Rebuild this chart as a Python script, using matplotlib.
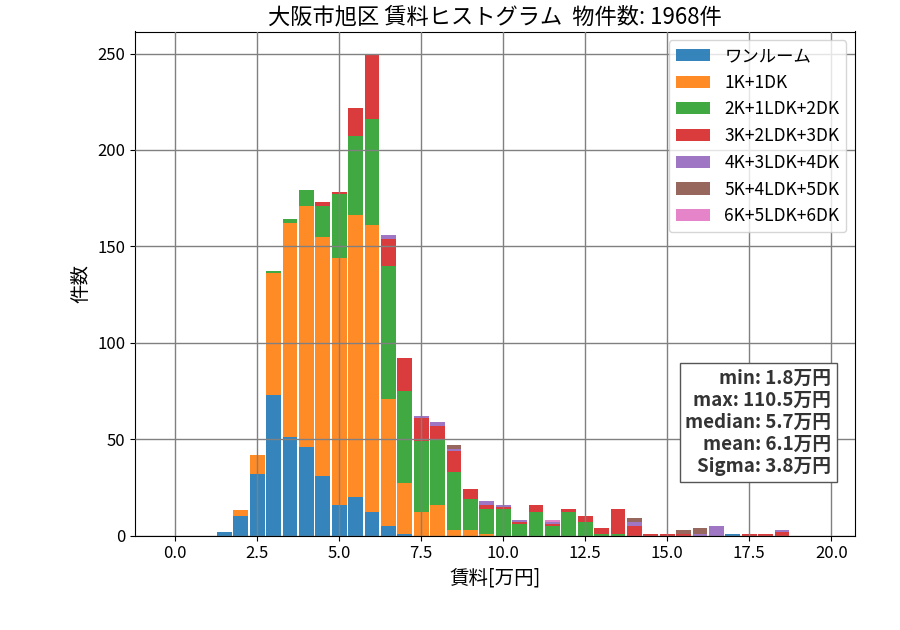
import numpy as np
import matplotlib
matplotlib.use("Agg")
import matplotlib.pyplot as plt

plt.rcParams['font.family'] = ['Noto Sans CJK JP', 'DejaVu Sans']

# bin left edges (0.5万円 bins), bars are drawn centred on the left edge
bin_left = np.arange(0, 20, 0.5)

labels = ["ワンルーム", "1K+1DK", "2K+1LDK+2DK", "3K+2LDK+3DK",
          "4K+3LDK+4DK", "5K+4LDK+5DK", "6K+5LDK+6DK"]

# counts per bin, keyed by bin left edge
one_room = {1.5: 2, 2.0: 10, 2.5: 32, 3.0: 73, 3.5: 51, 4.0: 46, 4.5: 31, 5.0: 16,
            5.5: 20, 6.0: 12, 6.5: 5, 7.0: 1, 17.0: 1}
k1 = {2.0: 3, 2.5: 10, 3.0: 63, 3.5: 111, 4.0: 125, 4.5: 124, 5.0: 128, 5.5: 146,
      6.0: 149, 6.5: 66, 7.0: 26, 7.5: 12, 8.0: 16, 8.5: 3, 9.0: 3, 9.5: 1}
k2 = {3.0: 1, 3.5: 2, 4.0: 8, 4.5: 16, 5.0: 33, 5.5: 41, 6.0: 55, 6.5: 69, 7.0: 48,
      7.5: 37, 8.0: 34, 8.5: 30, 9.0: 16, 9.5: 13, 10.0: 14, 10.5: 6, 11.0: 12,
      11.5: 5, 12.0: 12, 12.5: 7, 13.0: 1, 13.5: 1}
k3 = {4.5: 2, 5.0: 1, 5.5: 15, 6.0: 33, 6.5: 14, 7.0: 17, 7.5: 12, 8.0: 7, 8.5: 11,
      9.0: 5, 9.5: 2, 10.0: 1, 10.5: 1, 11.0: 4, 11.5: 1, 12.0: 2, 12.5: 3, 13.0: 3,
      13.5: 13, 14.0: 5, 14.5: 1, 15.0: 1, 15.5: 1, 17.5: 1, 18.0: 1, 18.5: 2}
k4 = {6.5: 2, 7.5: 1, 8.0: 2, 8.5: 1, 9.5: 2, 10.0: 1, 10.5: 1, 11.5: 1, 14.0: 2,
      16.0: 1, 16.5: 5, 18.5: 1}
k5 = {8.5: 2, 14.0: 2, 15.5: 2, 16.0: 3}
k6 = {11.5: 1}

stats_text = "min: 1.8万円\nmax: 110.5万円\nmedian: 5.7万円\nmean: 6.1万円\nSigma: 3.8万円"
colors = ["tab:blue", "tab:orange", "tab:green", "tab:red",
          "tab:purple", "tab:brown", "tab:pink"]

fig, ax = plt.subplots(figsize=(9, 6.3), dpi=100)
fig.subplots_adjust(left=0.15, right=0.95, bottom=0.15, top=0.95)

bottom = np.zeros(len(bin_left))
for series, lab, col in zip([one_room, k1, k2, k3, k4, k5, k6], labels, colors):
    h = np.array([series.get(round(b, 1), 0) for b in bin_left])
    ax.bar(bin_left, h, width=0.45, bottom=bottom, color=col, alpha=0.9, label=lab)
    bottom += h

ax.set_xlim(-1.2225, 20.7225)
ax.set_ylim(0, bottom.max() * 1.05)
ax.set_xticks(np.arange(0, 20.1, 2.5))
ax.grid(True, color="gray", linewidth=1)
ax.set_axisbelow(False)
ax.tick_params(labelsize=12)

ax.set_title("大阪市旭区 賃料ヒストグラム  物件数: 1968件", fontsize=16)
ax.set_xlabel("賃料[万円]", fontsize=14)
ax.set_ylabel("件数", fontsize=14)
ax.legend(loc="upper right", fontsize=12.5)

ax.text(0.967, 0.118, stats_text, transform=ax.transAxes, ha="right", va="bottom",
        fontsize=13.5, fontweight="bold", color="#333333", multialignment="right",
        bbox=dict(boxstyle="square,pad=0.3", facecolor="white", edgecolor="#555555"))

fig.savefig("out.png")
